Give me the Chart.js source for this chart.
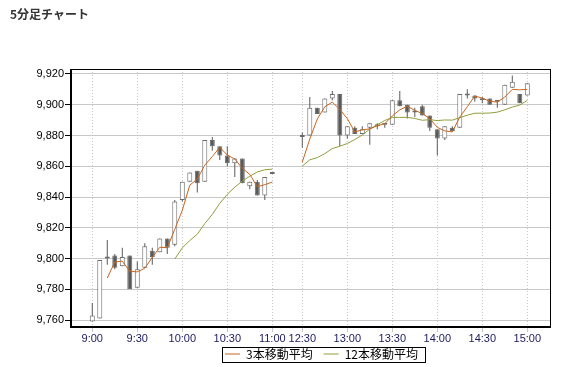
<!DOCTYPE html>
<html>
<head>
<meta charset="utf-8">
<title>5分足チャート</title>
<script src="https://cdn.jsdelivr.net/npm/chart.js@4.4.1/dist/chart.umd.min.js"></script>
<style>
  body { margin: 0; background: #fff; }
</style>
</head>
<body>
<canvas id="chart" width="564" height="367"></canvas>
<script>
// 5分足: 前場 9:00-11:00, 後場 12:30-15:00 (間の空き3本分)
var times = [
  "9:00", "9:05", "9:10", "9:15", "9:20", "9:25", "9:30", "9:35", "9:40", "9:45", "9:50", "9:55",
  "10:00", "10:05", "10:10", "10:15", "10:20", "10:25", "10:30", "10:35", "10:40", "10:45", "10:50", "10:55",
  "11:00", "", "", "",
  "12:30", "12:35", "12:40", "12:45", "12:50", "12:55",
  "13:00", "13:05", "13:10", "13:15", "13:20", "13:25", "13:30", "13:35", "13:40", "13:45", "13:50", "13:55",
  "14:00", "14:05", "14:10", "14:15", "14:20", "14:25", "14:30", "14:35", "14:40", "14:45", "14:50", "14:55",
  "15:00"
];
var tickLabels = ["9:00", "9:30", "10:00", "10:30", "11:00", "12:30", "13:00", "13:30", "14:00", "14:30", "15:00"];
var yTicks = [9760, 9770, 9780, 9790, 9800, 9810, 9820, 9830, 9840, 9850, 9860, 9870, 9880, 9890, 9900, 9910, 9920];

var open = [
  9759, 9761, 9801, 9802, 9795, 9802, 9781, 9794, 9805, 9804, 9813, 9809,
  9838, 9850, 9857, 9850, 9877, 9873, 9867, 9862, 9865, 9847, 9850, 9841,
  9856, null, null, null,
  9879, 9880, 9898, 9895, 9904, 9907,
  9880, 9885, 9881, 9885, 9886, 9887, 9887, 9903, 9900, 9896, 9899, 9893,
  9884, 9878, 9885, 9885, 9906, 9906, 9904, 9904, 9902, 9900, 9911, 9907,
  9906
];
var high = [
  9771, 9799, 9812, 9803, 9807, 9802, 9798, 9810, 9807, 9813, 9813, 9838,
  9850, 9856, 9857, 9877, 9879, 9873, 9873, 9865, 9865, 9850, 9851, 9853,
  9856, null, null, null,
  9882, 9905, 9898, 9904, 9909, 9907,
  9886, 9886, 9886, 9888, 9888, 9888, 9903, 9909, 9900, 9898, 9900, 9893,
  9884, 9886, 9886, 9907, 9910, 9906, 9905, 9904, 9903, 9913, 9919, 9907,
  9914
];
var low = [
  9759, 9761, 9796, 9793, 9795, 9780, 9781, 9794, 9796, 9804, 9803, 9808,
  9837, 9850, 9843, 9850, 9870, 9864, 9860, 9853, 9849, 9845, 9841, 9838,
  9855, null, null, null,
  9872, 9880, 9894, 9895, 9903, 9873,
  9878, 9881, 9881, 9874, 9884, 9885, 9887, 9899, 9891, 9892, 9893, 9883,
  9867, 9877, 9883, 9885, 9904, 9902, 9901, 9900, 9898, 9900, 9911, 9901,
  9906
];
var close = [
  9763, 9799, 9800, 9794, 9801, 9780, 9793, 9808, 9801, 9813, 9807, 9837,
  9850, 9856, 9849, 9877, 9873, 9867, 9862, 9865, 9849, 9850, 9841, 9853,
  9855, null, null, null,
  9880, 9898, 9894, 9904, 9907, 9880,
  9886, 9881, 9884, 9888, 9887, 9888, 9903, 9899, 9895, 9895, 9893, 9885,
  9878, 9886, 9883, 9907, 9906, 9904, 9903, 9900, 9902, 9913, 9915, 9901,
  9914
];
var ma3 = [
  null, null, 9787.3, 9797.7, 9798.3, 9791.7, 9791.3, 9793.7, 9800.7, 9807.3, 9807.0, 9819.0,
  9831.3, 9847.7, 9851.7, 9860.7, 9866.3, 9872.3, 9867.3, 9864.7, 9858.7, 9854.7, 9846.7, 9848.0,
  9849.7, null, null, null,
  9862.7, 9877.7, 9890.7, 9898.7, 9901.7, 9897.0,
  9891.0, 9882.3, 9883.7, 9884.3, 9886.3, 9887.7, 9892.7, 9896.7, 9899.0, 9896.3, 9894.3, 9891.0,
  9885.3, 9883.0, 9882.3, 9892.0, 9898.7, 9905.7, 9904.3, 9902.3, 9901.7, 9905.0, 9910.0, 9909.7,
  9910.0
];
var ma12 = [
  null, null, null, null, null, null, null, null, null, null, null, 9799.7,
  9806.9, 9811.7, 9815.8, 9822.7, 9828.7, 9835.9, 9841.7, 9846.4, 9850.4, 9853.5, 9856.3, 9857.7,
  9858.1, null, null, null,
  9860.1, 9864.2, 9865.6, 9868.2, 9871.5, 9873.0,
  9874.8, 9877.4, 9880.3, 9884.2, 9887.0, 9889.8, 9891.7, 9891.8, 9891.8, 9891.1, 9889.9, 9890.3,
  9889.7, 9890.1, 9890.0, 9891.6, 9893.2, 9894.5, 9894.5, 9894.6, 9895.2, 9896.7, 9898.5, 9899.8,
  9902.8
];

var jpFont = "'Noto Sans CJK JP', sans-serif";
var numFont = "'Liberation Sans', Arial, sans-serif";
var candleGray = "#5a5a5a";
var legendPad = 11;

var idx = times.map(function (t, i) { return i; }).filter(function (i) { return open[i] !== null; });

// 枠線と凡例の囲み
var framePlugin = {
  id: "frame",
  afterLayout: function (chart) {
    var lg = chart.legend;
    lg.left += 11; lg.right += 11;
    lg.top = 354 - legendPad - 6;
    lg.bottom = chart.height;
  },
  afterDraw: function (chart) {
    var a = chart.chartArea, c = chart.ctx;
    c.save();
    c.fillStyle = "#000";
    c.fillRect(a.left, a.top, a.right - a.left, 1);
    c.fillRect(a.right - 1, a.top, 1, a.bottom - a.top);
    c.fillRect(a.left, a.top, 2, a.bottom - a.top);
    c.fillRect(a.left, a.bottom - 2, a.right - a.left, 2);
    var hb = chart.legend.legendHitBoxes;
    if (hb && hb.length) {
      var last = hb[hb.length - 1];
      var l = Math.round(hb[0].left - 3) + 0.5;
      var r = Math.round(last.left + last.width + 7) + 0.5;
      var t = Math.round(hb[0].top + hb[0].height / 2 - 7.5) + 0.5;
      c.strokeStyle = "#000";
      c.lineWidth = 1;
      c.strokeRect(l, t, r - l, 15);
    }
    c.restore();
  }
};

var ctx = document.getElementById("chart").getContext("2d");
var myChart = new Chart(ctx, {
  type: "bar",
  data: {
    datasets: [
      {
        type: "line",
        label: "3本移動平均",
        data: times.map(function (t, i) { return { x: i, y: ma3[i] }; }),
        borderColor: "#c8641e",
        borderWidth: 1,
        pointRadius: 0,
        tension: 0,
      },
      {
        type: "line",
        label: "12本移動平均",
        data: times.map(function (t, i) { return { x: i, y: ma12[i] }; }),
        borderColor: "#8ca03c",
        borderWidth: 1,
        pointRadius: 0,
        tension: 0,
      },
      {
        label: "body",
        data: idx.map(function (i) { return { x: i, y: [open[i], close[i]] }; }),
        backgroundColor: idx.map(function (i) { return close[i] >= open[i] ? "#ffffff" : candleGray; }),
        borderColor: "#6a6a6a",
        borderWidth: 1,
        borderSkipped: false,
        barThickness: 5,
        minBarLength: 2,
        grouped: false,
        inflateAmount: 0,
      },
      {
        label: "wick",
        data: idx.map(function (i) { return { x: i, y: [low[i], high[i]] }; }),
        backgroundColor: candleGray,
        borderWidth: 0,
        barThickness: 1,
        minBarLength: 1,
        grouped: false,
        inflateAmount: 0,
      },
    ],
  },
  options: {
    responsive: false,
    animation: false,
    layout: { padding: { left: 10, right: 13, top: 0, bottom: 0 } },
    plugins: {
      title: {
        display: true,
        text: "5分足チャート",
        align: "start",
        color: "#333",
        font: { family: jpFont, size: 12, weight: "bold" },
        padding: { top: 7, bottom: 47.6 },
      },
      legend: {
        position: "bottom",
        fullSize: false,
        maxHeight: 21,
        labels: {
          filter: function (item) { return item.datasetIndex < 2; },
          usePointStyle: true,
          pointStyle: "line",
          pointStyleWidth: 15,
          padding: legendPad,
          color: "#000",
          font: { family: jpFont, size: 12 },
        },
      },
      tooltip: { enabled: false },
    },
    scales: {
      x: {
        type: "linear",
        min: -2.97,
        max: 61.16,
        offset: false,
        afterBuildTicks: function (scale) {
          scale.ticks = tickLabels.map(function (l) { return { value: times.indexOf(l) }; });
        },
        afterFit: function (scale) { scale.height = 18; },
        ticks: {
          autoSkip: false,
          maxRotation: 0,
          padding: 0,
          color: "#1a1a5e",
          font: { family: numFont, size: 11 },
          callback: function (v) { return times[v]; },
        },
        grid: { color: "#c8c8c8", tickColor: "#c8c8c8", tickLength: 4, offset: false },
        border: { display: false, dash: [1, 2] },
      },
      y: {
        min: 9754.8,
        max: 9923.25,
        afterBuildTicks: function (scale) {
          scale.ticks = yTicks.map(function (v) { return { value: v }; });
        },
        afterFit: function (scale) { scale.width = 60; },
        ticks: {
          color: "#000",
          padding: 1,
          font: { family: numFont, size: 11 },
          callback: function (v) { return v.toLocaleString("en-US"); },
        },
        grid: { color: "#c8c8c8", tickColor: "#000", tickLength: 5 },
        border: { display: false },
      },
    },
  },
  plugins: [framePlugin],
});
</script>
</body>
</html>
